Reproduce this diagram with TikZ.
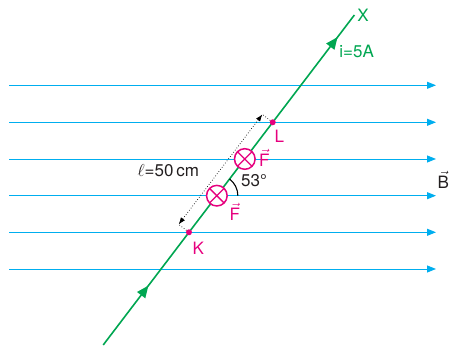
\documentclass[tikz,border=0pt]{standalone}
\usepackage{fontspec}
\setmainfont{TeX Gyre Heros}
\usetikzlibrary{arrows.meta,calc,decorations.markings}
\definecolor{fieldblue}{HTML}{00AEEF}
\definecolor{wiregreen}{HTML}{00A651}
\definecolor{pinkm}{HTML}{E6007E}
\definecolor{txt}{HTML}{231F20}
\newcommand\myvec[1]{\ensuremath{\vec{\hbox{#1}}}}
\begin{document}
\begin{tikzpicture}[x=1pt,y=1pt,
  fieldline/.style={fieldblue, line width=0.9pt, -{Triangle[length=9pt,width=7pt]}},
  wire/.style={wiregreen, line width=1.6pt},
  wirearrows/.style={postaction={decorate}, decoration={markings,
      mark=at position 0.18 with {\arrow{Triangle[length=12pt,width=10pt]}},
      mark=at position 0.933 with {\arrow{Triangle[length=12pt,width=10pt]}}}},
  lbl/.style={font=\fontsize{17}{20}\selectfont, inner sep=0pt},
  dotm/.style={circle, fill=pinkm, minimum size=6pt, inner sep=0pt},
  crossbox/.style={circle, draw=pinkm, fill=white, line width=1.5pt, minimum size=20.6pt, inner sep=0pt,
      path picture={\draw[pinkm, line width=1.3pt]
        (path picture bounding box.north west) -- (path picture bounding box.south east)
        (path picture bounding box.north east) -- (path picture bounding box.south west);}},
  dimline/.style={black, dotted, line width=0.7pt},
  dimtips/.style={{Latex[length=7pt,width=5pt]}-{Latex[length=7pt,width=5pt]}}
]
\useasboundingbox (0,0) rectangle (450,347);

% magnetic field lines
\foreach \yy [count=\i] in {261.7,224.7,188,151.3,114.7,78}{
  \coordinate (fs\i) at (9,\yy);
  \coordinate (fe\i) at (436,\yy);
  \draw[fieldline] (fs\i) -- (fe\i);
}

% wire
\coordinate (S) at (103.2,2);
\coordinate (E) at (354.4,332);
\draw[wire, wirearrows] (S) -- (E);

\coordinate (L) at ($(S)!0.67485!(E)$);
\coordinate (K) at ($(S)!0.34152!(E)$);
\coordinate (C1) at ($(S)!0.56364!(E)$);
\coordinate (C2) at ($(S)!0.45242!(E)$);

% angle arc
\draw[black, line width=1.1pt] ($(C2)+(21,0)$) arc[start angle=0, end angle=52.7, radius=21];

% dimension line
\coordinate (Lp) at ($(L)+(-10.34,7.87)$);
\coordinate (Kp) at ($(K)+(-10.34,7.87)$);
\draw[dimline, dimtips] (Kp) -- (Lp);

\node[dotm] (Ld) at (L) {};
\node[dotm] (Kd) at (K) {};
\draw[dimline] (Ld) -- (Lp);
\draw[dimline] (Kd) -- (Kp);

% force symbols
\node[crossbox] (c1) at (C1) {};
\node[crossbox] (c2) at (C2) {};

% labels
\node[lbl, pinkm, anchor=base west] (Fu) at (259,180.3) {\myvec{F}};
\node[lbl, pinkm, anchor=base west] (Fl) at (229.5,126.5) {\myvec{F}};
\node[lbl, txt, anchor=base west] (ang) at (241,160.3) {53°};
\node[lbl, txt, anchor=base] (len) at (168.3,170.3) {$\ell$=50\,cm};
\node[lbl, pinkm] (Ll) at (279.3,210.3) {L};
\node[lbl, pinkm] (Kl) at (198.3,98.7) {K};
\node[lbl, wiregreen] (Xl) at (363,332) {X};
\node[lbl, wiregreen] (il) at (356.7,295.3) {i=5A};
\node[lbl, txt, anchor=base west] (Bl) at (437.5,158.5) {\myvec{B}};
\end{tikzpicture}
\end{document}
